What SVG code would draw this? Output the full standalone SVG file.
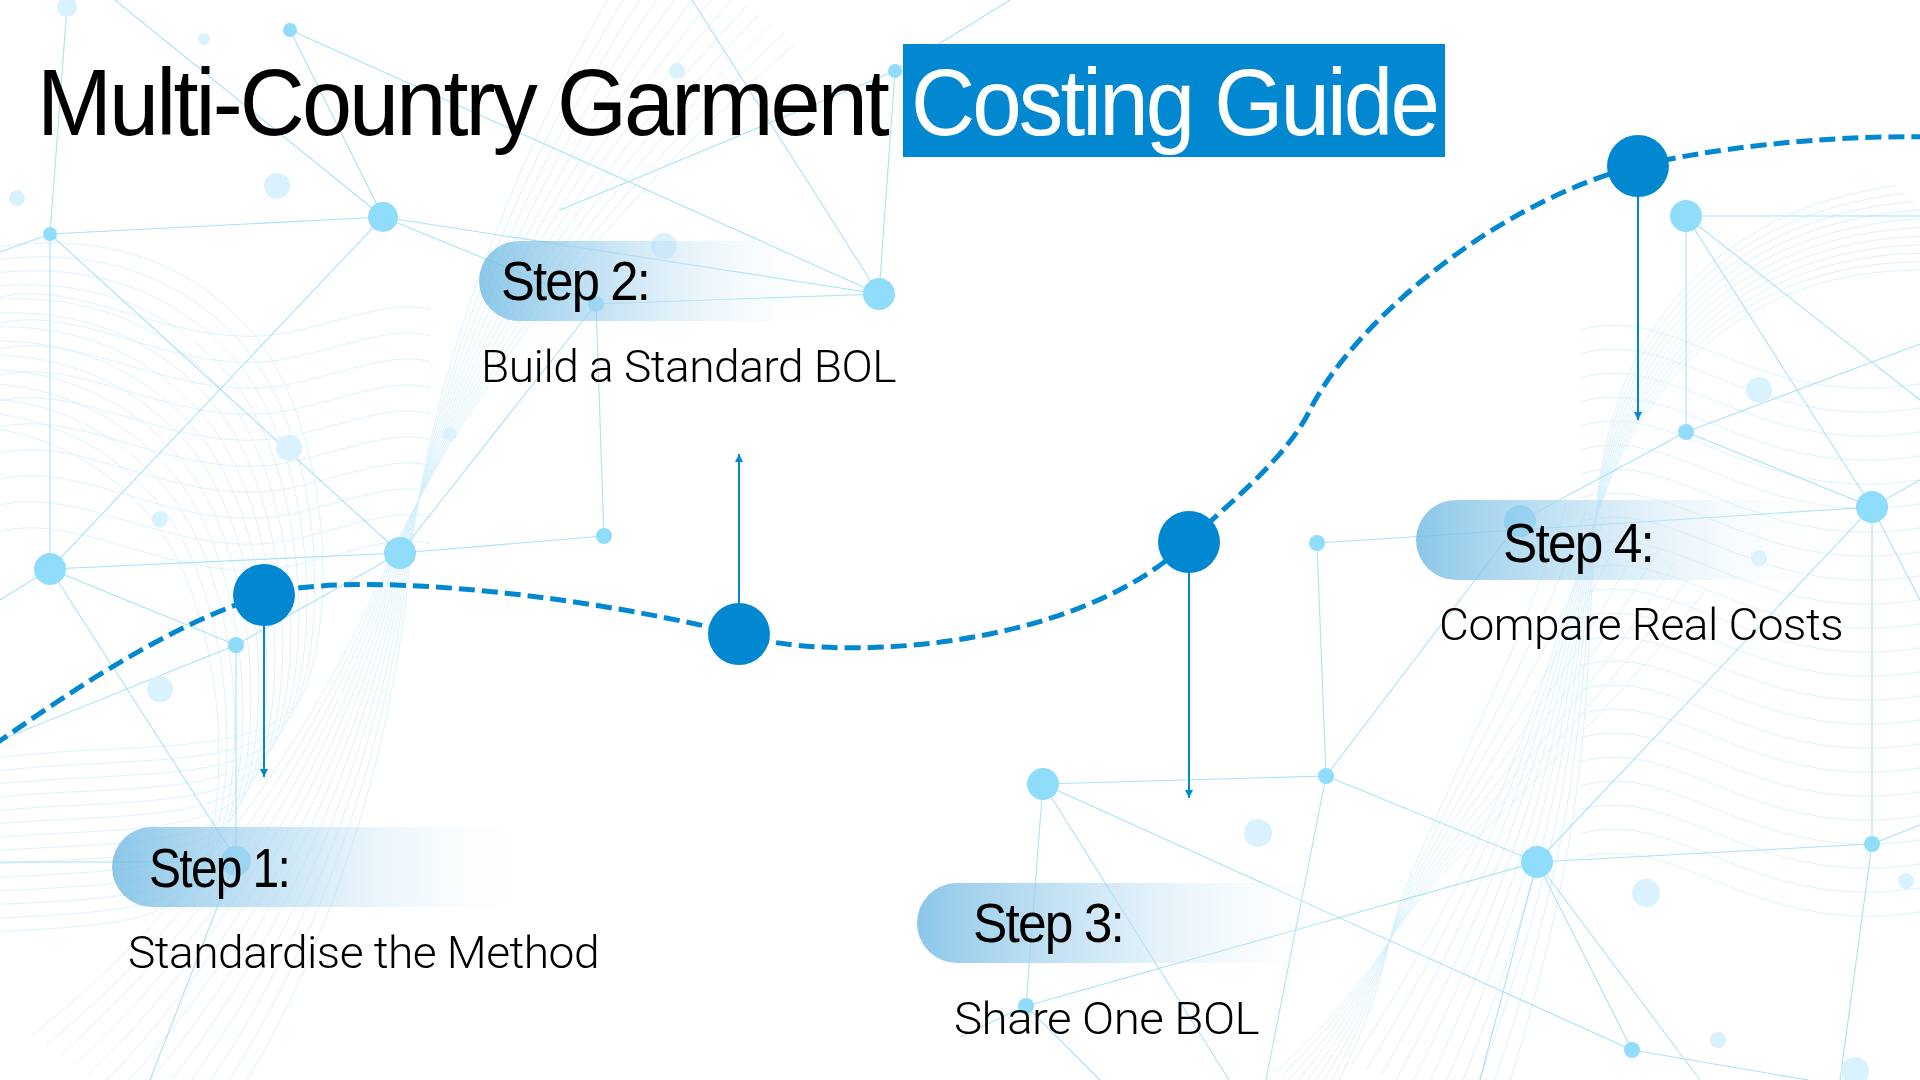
<svg xmlns="http://www.w3.org/2000/svg" xmlns:xlink="http://www.w3.org/1999/xlink" width="1920" height="1080" viewBox="0 0 1920 1080">
<style>
.mesh{fill:none;stroke:#9fdcf7;stroke-width:0.8;opacity:0.45}
.net{stroke:#8fd8f6;stroke-width:1.1;opacity:0.75;fill:none}
.dot{fill:#8fdcfb}
.fdot{fill:#d9f2fd}
.title{font-family:"Liberation Sans",Arial,sans-serif;font-size:94px;letter-spacing:-3px}
.step{font-family:"Liberation Sans",Arial,sans-serif;font-size:55px;fill:#000;letter-spacing:-2px}
.desc{font-family:Roboto,Inter,"Open Sans",sans-serif;font-weight:300;font-size:44px;fill:#000;letter-spacing:-0.5px}
.node{fill:#0288d1}
.pill{fill:url(#pillGrad)}
.arrow{stroke:#0288d1;stroke-width:2;fill:none;marker-end:url(#ah)}
</style>
<defs>
<linearGradient id="pillGrad" x1="0" y1="0" x2="1" y2="0">
<stop offset="0" stop-color="#6fb9e3" stop-opacity="0.8"/>
<stop offset="0.45" stop-color="#b9ddf2" stop-opacity="0.6"/>
<stop offset="1" stop-color="#ffffff" stop-opacity="0"/>
</linearGradient>
<marker id="ah" viewBox="0 0 10 10" refX="10" refY="5" markerWidth="9" markerHeight="8" markerUnits="userSpaceOnUse" orient="auto">
<path d="M0,0 L10,5 L0,10 z" fill="#0288d1"/>
</marker>
<path id="mA" d="M -20,760 C 120,740 260,760 300,700 C 340,620 330,420 250,330 C 180,250 80,230 -20,250"/>
<path id="mB" d="M 720,-10 C 560,180 450,380 400,560 C 350,760 250,950 120,1090"/>
<path id="mC" d="M 1940,230 C 1760,230 1640,330 1600,500 C 1560,680 1560,800 1420,1090"/>
<path id="mD" d="M 1580,330 C 1680,300 1760,420 1940,380"/>
<path id="mE" d="M 1640,540 C 1560,700 1420,860 1390,940 C 1360,1010 1330,1050 1300,1090"/>
<path id="mF" d="M -10,300 C 80,270 180,360 300,330 C 360,315 400,300 430,310"/>
</defs>
<rect width="1920" height="1080" fill="#ffffff"/>

<g id="background">
<g class="mesh">
<use href="#mA"/><use href="#mA" transform="translate(-8,14)"/><use href="#mA" transform="translate(-16,28)"/><use href="#mA" transform="translate(-24,42)"/><use href="#mA" transform="translate(-32,56)"/><use href="#mA" transform="translate(-40,70)"/><use href="#mA" transform="translate(-48,84)"/><use href="#mA" transform="translate(-56,98)"/><use href="#mA" transform="translate(-64,112)"/><use href="#mA" transform="translate(-72,126)"/><use href="#mA" transform="translate(-80,140)"/><use href="#mA" transform="translate(-88,154)"/><use href="#mA" transform="translate(-96,168)"/><use href="#mA" transform="translate(-104,182)"/>
<use href="#mF"/><use href="#mF" transform="translate(0,26)"/><use href="#mF" transform="translate(0,52)"/><use href="#mF" transform="translate(0,78)"/><use href="#mF" transform="translate(0,104)"/><use href="#mF" transform="translate(0,130)"/><use href="#mF" transform="translate(0,156)"/><use href="#mF" transform="translate(0,182)"/><use href="#mF" transform="translate(0,208)"/><use href="#mF" transform="translate(0,234)"/>
<use href="#mB" transform="rotate(-9,420,500)"/><use href="#mB" transform="rotate(-7.5,420,500)"/><use href="#mB" transform="rotate(-6,420,500)"/><use href="#mB" transform="rotate(-4.5,420,500)"/><use href="#mB" transform="rotate(-3,420,500)"/><use href="#mB" transform="rotate(-1.5,420,500)"/><use href="#mB"/><use href="#mB" transform="rotate(1.5,420,500)"/><use href="#mB" transform="rotate(3,420,500)"/><use href="#mB" transform="rotate(4.5,420,500)"/><use href="#mB" transform="rotate(6,420,500)"/><use href="#mB" transform="rotate(7.5,420,500)"/><use href="#mB" transform="rotate(9,420,500)"/>
<use href="#mC" transform="rotate(-8,1600,520)"/><use href="#mC" transform="rotate(-6.5,1600,520)"/><use href="#mC" transform="rotate(-5,1600,520)"/><use href="#mC" transform="rotate(-3.5,1600,520)"/><use href="#mC" transform="rotate(-2,1600,520)"/><use href="#mC" transform="rotate(-0.5,1600,520)"/><use href="#mC" transform="rotate(1,1600,520)"/><use href="#mC" transform="rotate(2.5,1600,520)"/><use href="#mC" transform="rotate(4,1600,520)"/><use href="#mC" transform="rotate(5.5,1600,520)"/><use href="#mC" transform="rotate(7,1600,520)"/>
<use href="#mD"/><use href="#mD" transform="translate(0,24)"/><use href="#mD" transform="translate(0,48)"/><use href="#mD" transform="translate(0,72)"/><use href="#mD" transform="translate(0,96)"/><use href="#mD" transform="translate(0,120)"/><use href="#mD" transform="translate(0,144)"/><use href="#mD" transform="translate(0,168)"/><use href="#mD" transform="translate(0,192)"/><use href="#mD" transform="translate(0,216)"/><use href="#mD" transform="translate(0,240)"/><use href="#mD" transform="translate(0,264)"/><use href="#mD" transform="translate(0,288)"/><use href="#mD" transform="translate(0,312)"/><use href="#mD" transform="translate(0,336)"/><use href="#mD" transform="translate(0,360)"/><use href="#mD" transform="translate(0,384)"/><use href="#mD" transform="translate(0,408)"/><use href="#mD" transform="translate(0,432)"/><use href="#mD" transform="translate(0,456)"/><use href="#mD" transform="translate(0,480)"/><use href="#mD" transform="translate(0,504)"/><use href="#mD" transform="translate(0,528)"/>
<use href="#mE" transform="rotate(-10,1390,940)"/><use href="#mE" transform="rotate(-7.5,1390,940)"/><use href="#mE" transform="rotate(-5,1390,940)"/><use href="#mE" transform="rotate(-2.5,1390,940)"/><use href="#mE"/><use href="#mE" transform="rotate(2.5,1390,940)"/><use href="#mE" transform="rotate(5,1390,940)"/><use href="#mE" transform="rotate(7.5,1390,940)"/><use href="#mE" transform="rotate(10,1390,940)"/>
</g>
<g class="net">
<line x1="290" y1="30" x2="383" y2="217"/>
<line x1="290" y1="30" x2="879" y2="294"/>
<line x1="115" y1="0" x2="383" y2="217"/>
<line x1="67" y1="7" x2="50" y2="234"/>
<line x1="383" y1="217" x2="50" y2="234"/>
<line x1="383" y1="217" x2="879" y2="294"/>
<line x1="383" y1="217" x2="596" y2="304"/>
<line x1="383" y1="217" x2="50" y2="569"/>
<line x1="879" y1="294" x2="596" y2="304"/>
<line x1="879" y1="294" x2="895" y2="71"/>
<line x1="879" y1="294" x2="692" y2="0"/>
<line x1="895" y1="71" x2="1010" y2="0"/>
<line x1="895" y1="71" x2="560" y2="210"/>
<line x1="596" y1="304" x2="604" y2="536"/>
<line x1="596" y1="304" x2="400" y2="553"/>
<line x1="604" y1="536" x2="400" y2="553"/>
<line x1="400" y1="553" x2="50" y2="569"/>
<line x1="400" y1="553" x2="236" y2="645"/>
<line x1="50" y1="234" x2="50" y2="569"/>
<line x1="50" y1="234" x2="400" y2="553"/>
<line x1="50" y1="234" x2="0" y2="252"/>
<line x1="50" y1="569" x2="236" y2="645"/>
<line x1="50" y1="569" x2="236" y2="859"/>
<line x1="50" y1="569" x2="0" y2="600"/>
<line x1="236" y1="645" x2="236" y2="859"/>
<line x1="0" y1="862" x2="236" y2="862"/>
<line x1="236" y1="645" x2="0" y2="740"/>
<line x1="236" y1="859" x2="150" y2="1080"/>
<line x1="1686" y1="216" x2="1920" y2="216"/>
<line x1="1686" y1="216" x2="1686" y2="432"/>
<line x1="1686" y1="216" x2="1872" y2="507"/>
<line x1="1686" y1="216" x2="1920" y2="400"/>
<line x1="1686" y1="432" x2="1920" y2="344"/>
<line x1="1686" y1="432" x2="1872" y2="507"/>
<line x1="1686" y1="432" x2="1520" y2="521"/>
<line x1="1520" y1="521" x2="1326" y2="776"/>
<line x1="1317" y1="543" x2="1872" y2="507"/>
<line x1="1317" y1="543" x2="1326" y2="776"/>
<line x1="1043" y1="784" x2="1326" y2="776"/>
<line x1="1043" y1="784" x2="1026" y2="1006"/>
<line x1="1043" y1="784" x2="1632" y2="1050"/>
<line x1="1043" y1="784" x2="1229" y2="1080"/>
<line x1="1326" y1="776" x2="1537" y2="862"/>
<line x1="1326" y1="776" x2="1266" y2="1080"/>
<line x1="1537" y1="862" x2="1872" y2="844"/>
<line x1="1537" y1="862" x2="1026" y2="1006"/>
<line x1="1537" y1="862" x2="1632" y2="1050"/>
<line x1="1537" y1="862" x2="1480" y2="1080"/>
<line x1="1537" y1="862" x2="1700" y2="1080"/>
<line x1="1537" y1="862" x2="1872" y2="507"/>
<line x1="1872" y1="844" x2="1920" y2="825"/>
<line x1="1872" y1="844" x2="1840" y2="1080"/>
<line x1="1872" y1="844" x2="1872" y2="507"/>
<line x1="1872" y1="507" x2="1920" y2="480"/>
<line x1="1872" y1="507" x2="1920" y2="600"/>
<line x1="1026" y1="1006" x2="960" y2="1037"/>
<line x1="1026" y1="1006" x2="1100" y2="1080"/>
<line x1="1632" y1="1050" x2="1808" y2="1080"/>
</g>
<g>
<circle class="fdot" cx="67" cy="7" r="10"/>
<circle class="fdot" cx="204" cy="39" r="6"/>
<circle class="fdot" cx="677" cy="71" r="8"/>
<circle class="fdot" cx="277" cy="186" r="13"/>
<circle class="fdot" cx="17" cy="198" r="8"/>
<circle class="fdot" cx="664" cy="246" r="13"/>
<circle class="fdot" cx="450" cy="434" r="7"/>
<circle class="fdot" cx="289" cy="448" r="13"/>
<circle class="fdot" cx="160" cy="519" r="8"/>
<circle class="fdot" cx="160" cy="689" r="13"/>
<circle class="fdot" cx="1759" cy="390" r="13"/>
<circle class="fdot" cx="1759" cy="558" r="8"/>
<circle class="fdot" cx="1258" cy="833" r="14"/>
<circle class="fdot" cx="1646" cy="893" r="14"/>
<circle class="fdot" cx="1718" cy="1040" r="8"/>
<circle class="fdot" cx="1906" cy="881" r="8"/>
<circle class="fdot" cx="1855" cy="1071" r="14"/>
<circle class="dot" cx="383" cy="217" r="15"/>
<circle class="dot" cx="879" cy="294" r="16"/>
<circle class="dot" cx="596" cy="304" r="8"/>
<circle class="dot" cx="604" cy="536" r="8"/>
<circle class="dot" cx="400" cy="553" r="16"/>
<circle class="dot" cx="50" cy="569" r="16"/>
<circle class="dot" cx="236" cy="645" r="8"/>
<circle class="dot" cx="236" cy="861" r="15"/>
<circle class="dot" cx="50" cy="234" r="7"/>
<circle class="dot" cx="290" cy="30" r="7"/>
<circle class="dot" cx="895" cy="71" r="7"/>
<circle class="dot" cx="1686" cy="216" r="16"/>
<circle class="dot" cx="1686" cy="432" r="8"/>
<circle class="dot" cx="1317" cy="543" r="8"/>
<circle class="dot" cx="1520" cy="521" r="16"/>
<circle class="dot" cx="1872" cy="507" r="16"/>
<circle class="dot" cx="1043" cy="784" r="16"/>
<circle class="dot" cx="1326" cy="776" r="8"/>
<circle class="dot" cx="1537" cy="862" r="16"/>
<circle class="dot" cx="1872" cy="844" r="8"/>
<circle class="dot" cx="1632" cy="1050" r="8"/>
<circle class="dot" cx="1026" cy="1006" r="8"/>
</g>
</g>

<g id="title">
<rect x="903" y="44" width="542" height="113" fill="#0288d1"/>
<text class="title" x="37" y="135" fill="#000" textLength="850" lengthAdjust="spacingAndGlyphs">Multi-Country Garment</text>
<text class="title" x="911" y="135" fill="#fff" textLength="526" lengthAdjust="spacingAndGlyphs">Costing Guide</text>
</g>

<g id="connectors">
<path d="M -6,745 C 80,685 170,625 264,595 C 340,571 560,590 739,634 C 820,662 1070,655 1188,542 C 1228,504 1285,460 1310,410 C 1355,320 1500,200 1638,166 C 1708,149 1820,135 1930,137" fill="none" stroke="#0288d1" stroke-width="5" stroke-dasharray="16 7"/>
<line class="arrow" x1="264" y1="626" x2="264" y2="777"/>
<line class="arrow" x1="739" y1="603" x2="739" y2="454"/>
<line class="arrow" x1="1189" y1="573" x2="1189" y2="798"/>
<line class="arrow" x1="1638" y1="197" x2="1638" y2="420"/>
</g>

<g id="step-1">
<circle class="node" cx="264" cy="595" r="31"/>
<rect class="pill" x="112" y="827" width="436" height="80" rx="40"/>
<text class="step" x="149" y="887" textLength="140" lengthAdjust="spacingAndGlyphs">Step 1:</text>
<text class="desc" x="128" y="968" textLength="471" lengthAdjust="spacingAndGlyphs">Standardise the Method</text>
</g>

<g id="step-2">
<circle class="node" cx="739" cy="634" r="31"/>
<rect class="pill" x="479" y="241" width="363" height="80" rx="40"/>
<text class="step" x="501" y="300" textLength="148" lengthAdjust="spacingAndGlyphs">Step 2:</text>
<text class="desc" x="481" y="382" textLength="415" lengthAdjust="spacingAndGlyphs">Build a Standard BOL</text>
</g>

<g id="step-3">
<circle class="node" cx="1189" cy="542" r="31"/>
<rect class="pill" x="917" y="883" width="433" height="80" rx="40"/>
<text class="step" x="973" y="942" textLength="150" lengthAdjust="spacingAndGlyphs">Step 3:</text>
<text class="desc" x="954" y="1034" textLength="305" lengthAdjust="spacingAndGlyphs">Share One BOL</text>
</g>

<g id="step-4">
<circle class="node" cx="1638" cy="166" r="31"/>
<rect class="pill" x="1416" y="500" width="424" height="80" rx="40"/>
<text class="step" x="1503" y="562" textLength="150" lengthAdjust="spacingAndGlyphs">Step 4:</text>
<text class="desc" x="1439" y="640" textLength="404" lengthAdjust="spacingAndGlyphs">Compare Real Costs</text>
</g>
</svg>
